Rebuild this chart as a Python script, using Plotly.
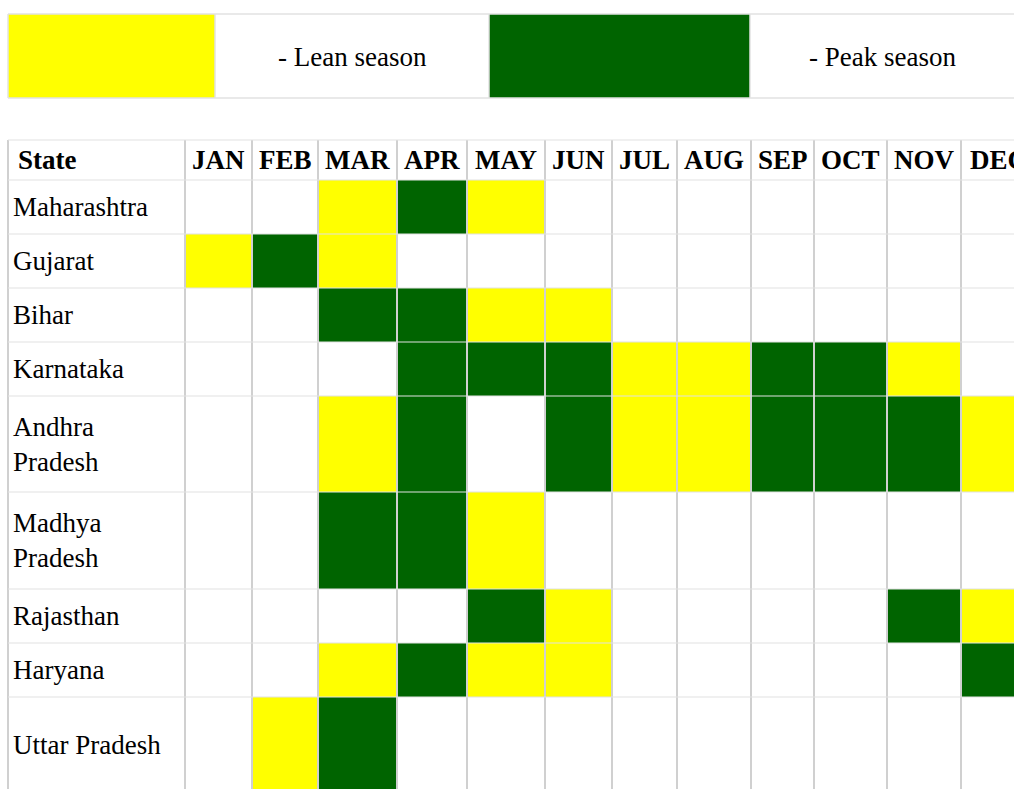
import plotly.graph_objects as go

# ---------------- data ----------------
months = ["JAN", "FEB", "MAR", "APR", "MAY", "JUN", "JUL", "AUG", "SEP", "OCT", "NOV", "DEC"]
states = ["Maharashtra", "Gujarat", "Bihar", "Karnataka", "Andhra<br>Pradesh",
          "Madhya<br>Pradesh", "Rajasthan", "Haryana", "Uttar Pradesh"]
# 0 = none, 1 = lean season, 2 = peak season
season = {
    "Maharashtra":       [0, 0, 1, 2, 1, 0, 0, 0, 0, 0, 0, 0],
    "Gujarat":           [1, 2, 1, 0, 0, 0, 0, 0, 0, 0, 0, 0],
    "Bihar":             [0, 0, 2, 2, 1, 1, 0, 0, 0, 0, 0, 0],
    "Karnataka":         [0, 0, 0, 2, 2, 2, 1, 1, 2, 2, 1, 0],
    "Andhra<br>Pradesh": [0, 0, 1, 2, 0, 2, 1, 1, 2, 2, 2, 1],
    "Madhya<br>Pradesh": [0, 0, 2, 2, 1, 0, 0, 0, 0, 0, 0, 0],
    "Rajasthan":         [0, 0, 0, 0, 2, 1, 0, 0, 0, 0, 2, 1],
    "Haryana":           [0, 0, 1, 2, 1, 1, 0, 0, 0, 0, 0, 2],
    "Uttar Pradesh":     [0, 1, 2, 0, 0, 0, 0, 0, 0, 0, 0, 0],
}
legend_labels = ["- Lean season", "- Peak season"]

# ---------------- layout geometry (pixels of the page) ----------------
W, H = 1014, 789
table_left, table_top = 8, 140
col_widths = [177, 67, 66, 79, 70, 78, 67, 65, 74, 63, 73, 74, 74]   # State + 12 months
row_heights = [40, 54, 54, 54, 54, 96, 97, 54, 54, 96]               # header + 9 states
legend_left, legend_top, legend_bottom = 8, 14, 98
legend_widths = [207, 274, 261, 265]

YELLOW = "#FFFF00"
GREEN = "#006400"
VLINE = "#d0d0d0"
HLINE = "#e2e2e2"
FONT = "Liberation Serif"
FS = 27

def edges(start, sizes):
    out = [start]
    for s in sizes:
        out.append(out[-1] + s)
    return out

xe = edges(table_left, col_widths)
ye = edges(table_top, row_heights)
lxe = edges(legend_left, legend_widths)

colorscale = [[0, "white"], [0.333, "white"], [0.333, YELLOW], [0.667, YELLOW],
              [0.667, GREEN], [1, GREEN]]

# z matrix: header row + state rows, state column + month columns
z = [[0] * (len(months) + 1)]
for s in states:
    z.append([0] + season[s])

fig = go.Figure()
fig.add_trace(go.Heatmap(x=xe, y=ye, z=z, zmin=0, zmax=2, colorscale=colorscale,
                         showscale=False, hoverinfo="skip"))
fig.add_trace(go.Heatmap(x=lxe, y=[legend_top, legend_bottom], z=[[1, 0, 2, 0]],
                         zmin=0, zmax=2, colorscale=colorscale,
                         showscale=False, hoverinfo="skip"))

shapes = []
# table borders
for x in xe:
    shapes.append(dict(type="line", x0=x, x1=x, y0=ye[0], y1=ye[-1],
                       line=dict(color=VLINE, width=2), layer="above"))
for y in ye:
    shapes.append(dict(type="line", x0=xe[0], x1=xe[-1], y0=y, y1=y,
                       line=dict(color=HLINE, width=1.2), layer="above"))
# legend borders
for x in lxe:
    shapes.append(dict(type="line", x0=x, x1=x, y0=legend_top, y1=legend_bottom,
                       line=dict(color=HLINE, width=1.5), layer="above"))
for y in (legend_top, legend_bottom):
    shapes.append(dict(type="line", x0=lxe[0], x1=lxe[-1], y0=y, y1=y,
                       line=dict(color=HLINE, width=1.5), layer="above"))

ann = []
# header
ann.append(dict(x=xe[0] + 8, y=(ye[0] + ye[1]) / 2, text="<b>State</b>", xanchor="left",
                yanchor="middle", showarrow=False, font=dict(family=FONT, size=FS, color="black")))
for i, m in enumerate(months):
    ann.append(dict(x=(xe[i + 1] + xe[i + 2]) / 2, y=(ye[0] + ye[1]) / 2, text=f"<b>{m}</b>",
                    xanchor="center", yanchor="middle", showarrow=False,
                    font=dict(family=FONT, size=FS, color="black")))
# state names
for j, s in enumerate(states):
    ann.append(dict(x=xe[0] + 3, y=(ye[j + 1] + ye[j + 2]) / 2, text=s, xanchor="left",
                    yanchor="middle", align="left", showarrow=False,
                    font=dict(family=FONT, size=FS, color="black")))
# legend labels
for k, lab in zip((1, 3), legend_labels):
    ann.append(dict(x=(lxe[k] + lxe[k + 1]) / 2, y=(legend_top + legend_bottom) / 2 + 1, text=lab,
                    xanchor="center", yanchor="middle", showarrow=False,
                    font=dict(family=FONT, size=FS, color="black")))

fig.update_layout(
    width=W, height=H, margin=dict(l=0, r=0, t=0, b=0),
    paper_bgcolor="white", plot_bgcolor="white",
    xaxis=dict(range=[0, W], visible=False, fixedrange=True),
    yaxis=dict(range=[H, 0], visible=False, fixedrange=True),
    shapes=shapes, annotations=ann, showlegend=False,
)
fig.write_html(
    "out.html",
    config={"displayModeBar": False},
    post_script="document.body.style.margin='0px';document.body.style.overflow='hidden';",
)
